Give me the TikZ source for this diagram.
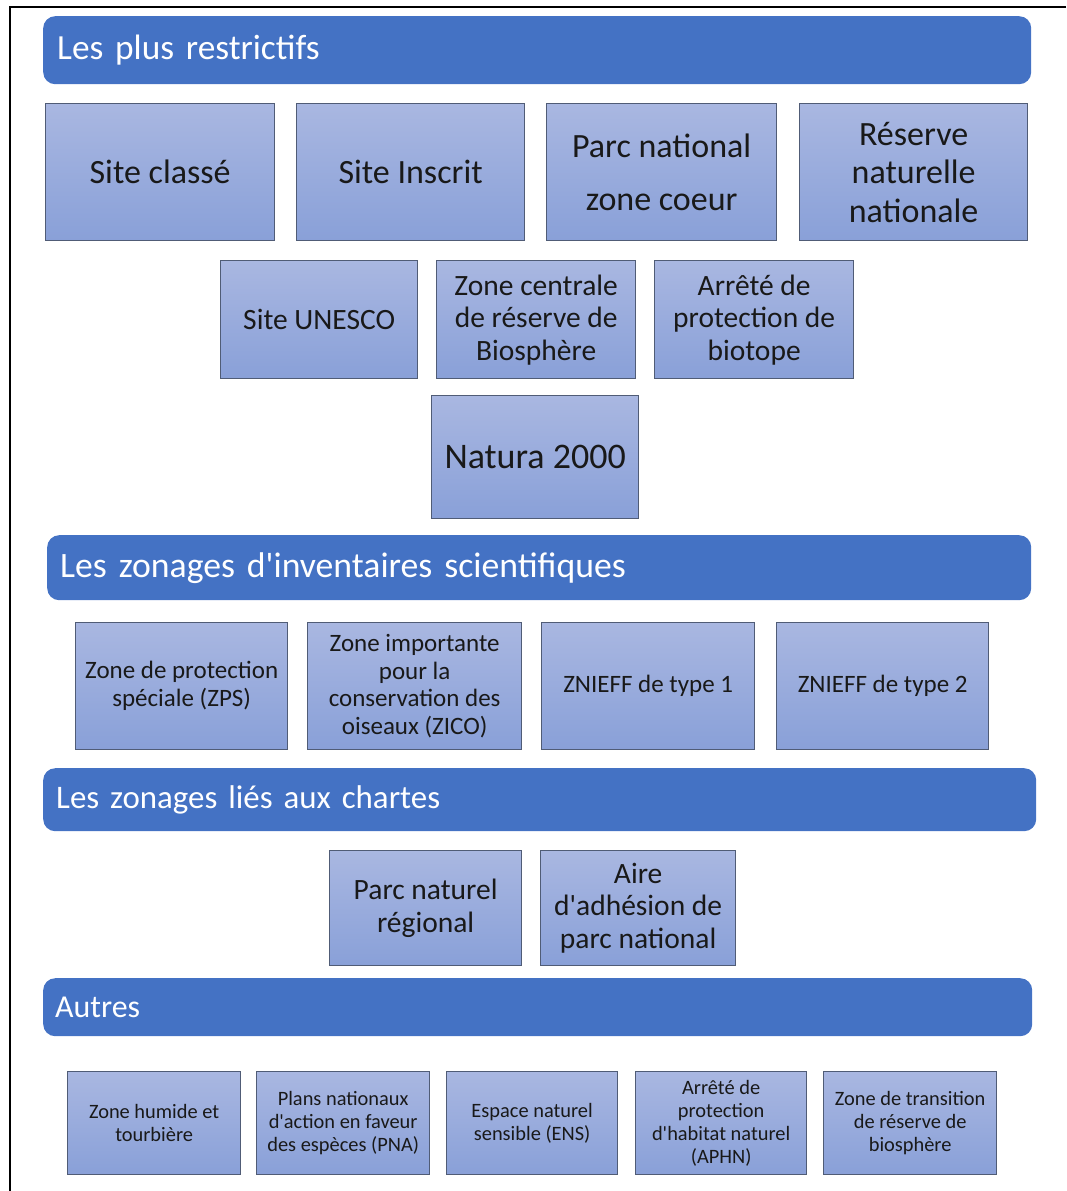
\documentclass[tikz,border=0pt]{standalone}
\usepackage{fontspec}
\setmainfont{Carlito}
\newfontfamily\plainq{Carlito}
\newcommand\sq{{\plainq\symbol{39}}}
\definecolor{hdrblue}{HTML}{4472C4}
\definecolor{boxtop}{RGB}{169,183,225}
\definecolor{boxbot}{RGB}{137,160,216}
\definecolor{boxline}{RGB}{80,92,118}
\definecolor{txtdark}{RGB}{25,25,25}
\tikzset{
  hdr/.style={fill=hdrblue, rounded corners=12pt, anchor=north west, inner xsep=14pt, inner ysep=0pt,
    text=white, align=left, font=\fontsize{36}{40}\selectfont},
  bx/.style={top color=boxtop, bottom color=boxbot, draw=boxline, line width=1.3pt,
    anchor=north west, inner sep=0pt, align=center, text=txtdark},
  fA/.style={font=\fontsize{34}{38.5}\selectfont},
  fB/.style={font=\fontsize{29.5}{32.5}\selectfont},
  fC/.style={font=\fontsize{25}{27.7}\selectfont},
  fD/.style={font=\fontsize{20.4}{22.8}\selectfont},
}
\begin{document}
\begin{tikzpicture}[x=1pt,y=-1pt]
\useasboundingbox (0,0) rectangle (1066,1191);
% frame
\coordinate (fa) at (9,7);
\coordinate (fb) at (1066,7);
\coordinate (fc) at (10,1191);
\draw[line width=2.6pt] (fb) -- (fa -| fc) -- (fc);

% header 1
\node[hdr, font=\fontsize{35.3}{40}\selectfont, minimum width=988pt, minimum height=68pt, text width=960pt] (h1) at (43,16) {Les plus restrictifs};
\node[bx, fA, minimum width=229pt, minimum height=137pt] (sc) at (45,103) {Site classé};
\node[bx, fA, minimum width=228pt, minimum height=137pt] (si) at (296,103) {Site Inscrit};
\node[bx, fA, minimum width=230pt, minimum height=137pt] (pn) at (546,103) {Parc national\\[15pt]zone coeur};
\node[bx, fA, minimum width=228pt, minimum height=137pt] (rn) at (799,103) {Réserve\\naturelle\\nationale};
\node[bx, fB, minimum width=197pt, minimum height=118pt] (un) at (220,260) {Site UNESCO};
\node[bx, fB, minimum width=199pt, minimum height=118pt] (zc) at (436,260) {Zone centrale\\de réserve de\\Biosphère};
\node[bx, fB, minimum width=199pt, minimum height=118pt] (ab) at (654,260) {Arrêté de\\protection de\\biotope};
\node[bx, font=\fontsize{36}{40}\selectfont, minimum width=207pt, minimum height=123pt] (n2) at (431,395) {Natura 2000};

% header 2
\node[hdr, font=\fontsize{35.7}{40}\selectfont, minimum width=984pt, minimum height=65pt, text width=958pt, inner xsep=13pt] (h2) at (47,535) {Les zonages d\sq inventaires scientifiques};
\node[bx, fC, minimum width=212pt, minimum height=127pt] (zps) at (75,622) {Zone de protection\\spéciale (ZPS)};
\node[bx, fC, minimum width=214pt, minimum height=127pt] (zico) at (307,622) {Zone importante\\pour la\\conservation des\\oiseaux (ZICO)};
\node[bx, fC, minimum width=213pt, minimum height=127pt] (z1) at (541,622) {ZNIEFF de type 1};
\node[bx, fC, minimum width=212pt, minimum height=127pt] (z2) at (776,622) {ZNIEFF de type 2};

% header 3
\node[hdr, font=\fontsize{32.9}{38}\selectfont, minimum width=993pt, minimum height=63pt, text width=967pt, inner xsep=13pt] (h3) at (43,768) {Les zonages liés aux chartes};
\node[bx, fB, minimum width=192pt, minimum height=115pt] (pnr) at (329,850) {Parc naturel\\régional};
\node[bx, fB, minimum width=195pt, minimum height=115pt] (aa) at (540,850) {Aire\\d\sq adhésion de\\parc national};

% header 4
\node[hdr, font=\fontsize{31.9}{36}\selectfont, minimum width=989pt, minimum height=58pt, text width=965pt, inner xsep=12pt] (h4) at (43,978) {Autres};
\node[bx, fD, minimum width=173pt, minimum height=103pt] (zh) at (67,1071) {Zone humide et\\tourbière};
\node[bx, fD, minimum width=173pt, minimum height=103pt] (pna) at (256,1071) {Plans nationaux\\d\sq action en faveur\\des espèces (PNA)};
\node[bx, fD, minimum width=171pt, minimum height=103pt] (ens) at (446,1071) {Espace naturel\\sensible (ENS)};
\node[bx, fD, minimum width=171pt, minimum height=103pt] (aphn) at (635,1071) {Arrêté de\\protection\\d\sq habitat naturel\\(APHN)};
\node[bx, fD, minimum width=173pt, minimum height=103pt] (zt) at (823,1071) {Zone de transition\\de réserve de\\biosphère};
\end{tikzpicture}
\end{document}
